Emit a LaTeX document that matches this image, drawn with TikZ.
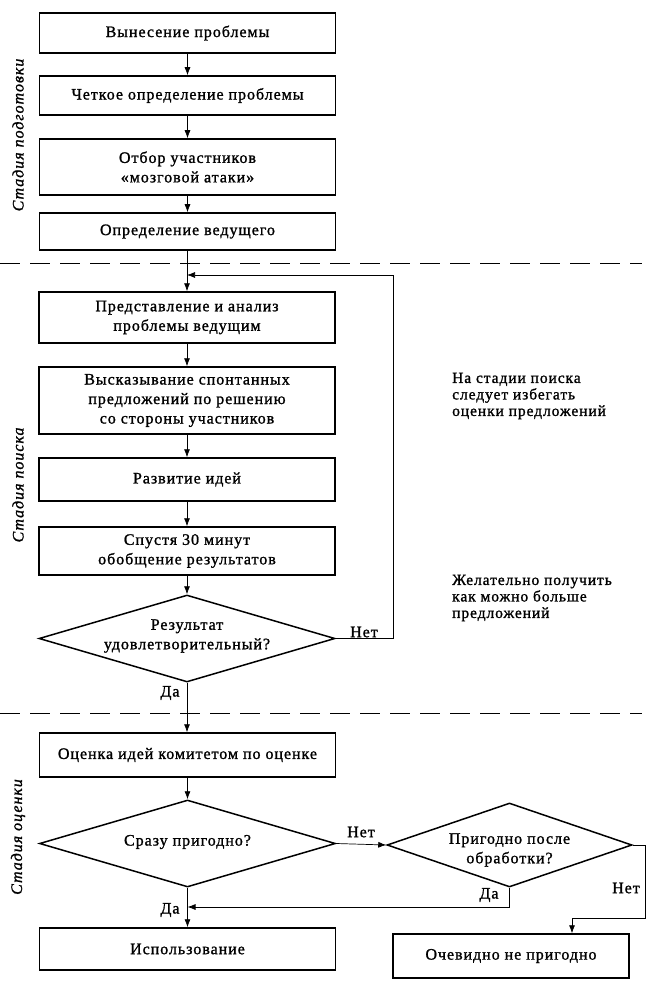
\documentclass[tikz,border=0pt]{standalone}
\usepackage{fontspec}
\setmainfont{Liberation Serif}[LetterSpace=6,FakeBold=1.2]
\usetikzlibrary{shapes.geometric,arrows.meta}
\begin{document}
\begin{tikzpicture}[x=1pt,y=-1pt,
  txt/.style={font=\fontsize{16}{19.5}\selectfont},
  box/.style={txt, draw, line width=1.5pt, align=center, inner sep=0pt, minimum width=296pt},
  dia/.style={draw, line width=1.5pt, inner sep=0pt, shape=diamond},
  dtxt/.style={txt, align=center, inner sep=0pt},
  conn/.style={line width=0.7pt},
  arr/.style={conn, -{Latex[length=8pt,width=6pt]}},
  lab/.style={txt, inner sep=0pt},
  side/.style={font=\fontsize{16}{19}\selectfont\itshape, rotate=90, inner sep=0pt},
  note/.style={font=\fontsize{15.5}{16.5}\selectfont, align=left, inner sep=0pt},
  sep/.style={line width=0.8pt, dash pattern=on 20pt off 10pt}]
\useasboundingbox (0,0) rectangle (648,981);

% separators
\draw[sep] (0,263) -- (642,263);
\draw[sep] (0,713) -- (642,713);

% side labels
\node[side] (s1) at (18,135) {Стадия подготовки};
\node[side] (s2) at (18,485) {Стадия поиска};
\node[side] (s3) at (18,837) {Стадия оценки};

% stage 1
\node[box, minimum height=40pt] (b1) at (187.5,33) {Вынесение проблемы};
\node[box, minimum height=39pt] (b2) at (187.5,95.5) {Четкое определение проблемы};
\node[box, minimum height=56pt] (b3) at (187.5,167) {Отбор участников\\«мозговой атаки»};
\node[box, minimum height=37pt] (b4) at (187.5,231.5) {Определение ведущего};

% stage 2
\node[box, minimum height=51pt] (b5) at (187,317.5) {Представление и анализ\\проблемы ведущим};
\node[box, minimum height=67pt] (b6) at (187,400.5) {Высказывание спонтанных\\предложений по решению\\со стороны участников};
\node[box, minimum height=43pt] (b7) at (187,479.5) {Развитие идей};
\node[box, minimum height=48pt] (b8) at (187,551) {Спустя 30 минут\\обобщение результатов};
\node[dia, minimum width=296pt, minimum height=87pt] (d1) at (187,638.5) {};
\node[dtxt] (d1t) at (187,636) {Результат\\удовлетворительный?};

% stage 3
\node[box, minimum height=44pt] (b9) at (187.5,755) {Оценка идей комитетом по оценке};
\node[dia, minimum width=296pt, minimum height=87pt] (d2) at (187.5,843.5) {};
\node[dtxt] (d2t) at (187.5,842) {Сразу пригодно?};
\node[dia, minimum width=245pt, minimum height=84pt] (d3) at (509.5,845) {};
\node[dtxt] (d3t) at (509.5,850) {Пригодно после\\обработки?};
\node[box, minimum height=42pt] (b10) at (187.5,949) {Использование};
\node[box, minimum width=236pt, minimum height=44pt] (b11) at (511,956) {Очевидно не пригодно};

% notes
\node[note, anchor=west] (n1) at (452,396) {На стадии поиска\\следует избегать\\оценки предложений};
\node[note, anchor=west] (n2) at (452,598) {Желательно получить\\как можно больше\\предложений};

% connectors
\draw[arr] (b1) -- (b2);
\draw[arr] (b2) -- (b3);
\draw[arr] (b3) -- (b4);
\draw[arr] (b4.south -| b5.north) -- (b5.north);
\draw[arr] (b5) -- (b6);
\draw[arr] (b6) -- (b7);
\draw[arr] (b7) -- (b8);
\draw[arr] (b8) -- (d1);
\coordinate (fbr) at (393,275);
\coordinate (fbl) at (187,275);
\draw[arr] (d1.east) -| (fbr) -- (fbl);
\node[lab] (l1) at (364,632) {Нет};
\draw[arr] (d1.south) -- (b9.north -| d1.south);
\node[lab] (l2) at (170,693) {Да};
\draw[arr] (b9.south -| d2.north) -- (d2.north);
\draw[arr] (d2.east) -- (d3.west);
\node[lab] (l3) at (361,832) {Нет};
\draw[arr] (d2.south) -- (b10.north -| d2.south);
\node[lab] (l4) at (170,910) {Да};
\coordinate (c3) at (509.5,907);
\coordinate (j2) at (187.5,907);
\draw[arr] (d3.south) -- (c3) -- (j2);
\node[lab] (l5) at (489,895) {Да};
\coordinate (c1) at (645,918);
\coordinate (c2) at (572,918);
\draw[arr] (d3.east) -| (c1) -- (c2) -- (c2 |- b11.north);
\node[lab] (l6) at (626,888) {Нет};
\end{tikzpicture}
\end{document}
